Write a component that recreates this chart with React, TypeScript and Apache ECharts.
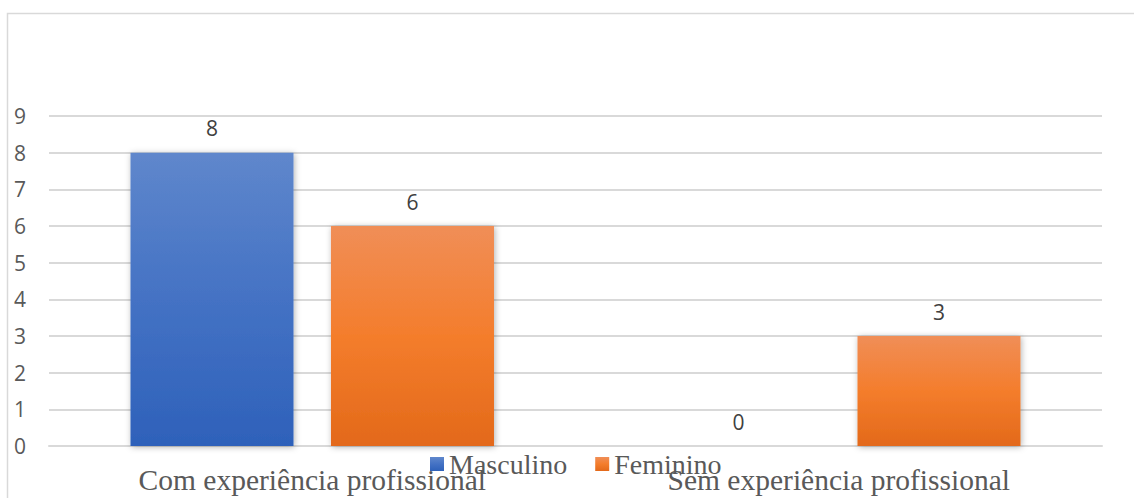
import React, { useEffect, useRef } from "react";
import * as echarts from "echarts";

const categories = ["Com experiência profissional", "Sem experiência profissional"];
const masculino = [8, 0];
const feminino = [6, 3];
const yTicks = [0, 1, 2, 3, 4, 5, 6, 7, 8, 9];

export default function App() {
  const ref = useRef<HTMLDivElement>(null);
  useEffect(() => {
    if (!ref.current) return;
    const chart = echarts.init(ref.current, undefined, { renderer: "svg" });
    const digitFont = "'Open Sans', sans-serif";
    const serif = "'Liberation Serif', 'Times New Roman', serif";
    const blueGrad = new echarts.graphic.LinearGradient(0, 0, 0, 1, [
      { offset: 0, color: "#5f87cc" },
      { offset: 0.5, color: "#4472c4" },
      { offset: 1, color: "#2e61ba" },
    ]);
    const orangeGrad = new echarts.graphic.LinearGradient(0, 0, 0, 1, [
      { offset: 0, color: "#f08e57" },
      { offset: 0.5, color: "#f47d2c" },
      { offset: 1, color: "#e3691a" },
    ]);
    const label = {
      show: true,
      position: "top" as const,
      distance: 14,
      fontFamily: digitFont,
      fontSize: 21,
      color: "#404040",
    };
    chart.setOption({
      animation: false,
      backgroundColor: "#ffffff",
      graphic: [
        {
          type: "rect",
          shape: { x: 7.5, y: 13.5, width: 1200, height: 600 },
          style: { fill: "none", stroke: "#d9d9d9", lineWidth: 1.5 },
          z: -1,
        },
      ],
      grid: { left: 49, right: 32, top: 116, bottom: 52, containLabel: false },
      legend: {
        left: 430,
        top: 450,
        padding: 0,
        itemWidth: 14,
        itemHeight: 14,
        itemGap: 28,
        icon: "rect",
        textStyle: { fontFamily: serif, fontSize: 28, color: "#595959" },
        data: ["Masculino", "Feminino"],
      },
      xAxis: {
        type: "category",
        data: categories,
        axisLine: { show: true, lineStyle: { color: "#d9d9d9", width: 2 } },
        axisTick: { show: false },
        axisLabel: { fontFamily: serif, fontSize: 29.5, color: "#595959", margin: 19 },
      },
      yAxis: {
        type: "value",
        min: yTicks[0],
        max: yTicks[yTicks.length - 1],
        interval: 1,
        axisLine: { show: false },
        axisTick: { show: false },
        splitLine: { lineStyle: { color: "#d9d9d9", width: 2 } },
        axisLabel: {
          fontFamily: digitFont,
          fontSize: 21,
          color: "#595959",
          align: "left",
          margin: 35,
        },
      },
      series: [
        {
          name: "Masculino",
          type: "bar",
          data: masculino,
          barWidth: 163,
          barGap: "23%",
          itemStyle: {
            color: blueGrad,
            shadowBlur: 6,
            shadowColor: "rgba(0,0,0,0.3)",
            shadowOffsetX: 1,
            shadowOffsetY: 1,
          },
          label,
        },
        {
          name: "Feminino",
          type: "bar",
          data: feminino,
          barWidth: 163,
          itemStyle: {
            color: orangeGrad,
            shadowBlur: 6,
            shadowColor: "rgba(0,0,0,0.3)",
            shadowOffsetX: 1,
            shadowOffsetY: 1,
          },
          label,
        },
      ],
    });
    return () => chart.dispose();
  }, []);
  return (
    <div
      ref={ref}
      style={{ position: "fixed", left: 0, top: 0, width: 1134, height: 498 }}
    />
  );
}
